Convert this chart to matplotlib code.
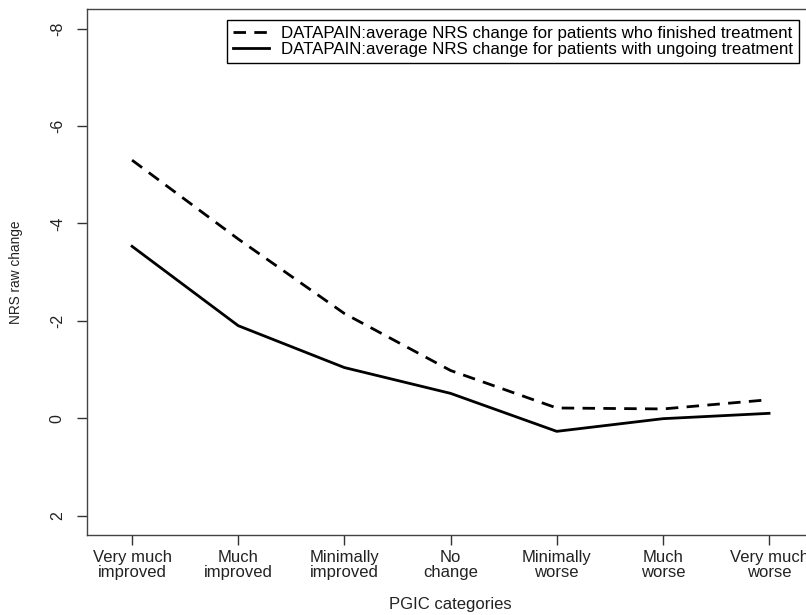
import matplotlib
matplotlib.use("Agg")
import matplotlib.pyplot as plt

plt.rcParams["font.family"] = ["Liberation Sans", "DejaVu Sans"]
plt.rcParams["font.size"] = 12

categories = ["Very much\nimproved", "Much\nimproved", "Minimally\nimproved", "No\nchange",
              "Minimally\nworse", "Much\nworse", "Very much\nworse"]
finished = [-5.3, -3.68, -2.15, -0.98, -0.21, -0.19, -0.38]
ongoing = [-3.53, -1.9, -1.04, -0.51, 0.27, 0.01, -0.1]
yticks = [-8, -6, -4, -2, 0, 2]

fig = plt.figure(figsize=(8.06, 6.15), dpi=100)
ax = fig.add_axes([0.108, 0.130, 0.902, 0.855])

x = list(range(1, len(categories) + 1))
ax.plot(x, finished, color="black", lw=2.0, linestyle=(0, (4.5, 3)),
        label="DATAPAIN:average NRS change for patients who finished treatment")
ax.plot(x, ongoing, color="black", lw=2.0,
        label="DATAPAIN:average NRS change for patients with ungoing treatment")

ax.set_xlim(0.576, 7.424)
ax.set_ylim(2.4, -8.4)
ax.set_xticks(x)
ax.set_xticklabels(categories, linespacing=0.95)
ax.set_yticks(yticks)
ax.set_yticklabels([str(v) for v in yticks], rotation=90, va="center", fontsize=11.5)
ax.tick_params(axis="both", length=7, width=1, color="#333333", labelcolor="#222222")
ax.tick_params(axis="y", pad=9)
ax.tick_params(axis="x", pad=4)
for s in ax.spines.values():
    s.set_color("#444444")
    s.set_linewidth(1)

ax.set_xlabel("PGIC categories", labelpad=12.5, color="#222222")
ax.set_ylabel("NRS raw change", labelpad=19, color="#222222", fontsize=9.8)

leg = ax.legend(loc="upper left", bbox_to_anchor=(0.1926, 0.979), fancybox=False,
                edgecolor="black", framealpha=1, borderpad=0.35, labelspacing=0.05,
                handlelength=2.1, handletextpad=0.75, borderaxespad=0, fontsize=12.2)
leg.get_frame().set_linewidth(1)

fig.savefig("out.png", dpi=100)
